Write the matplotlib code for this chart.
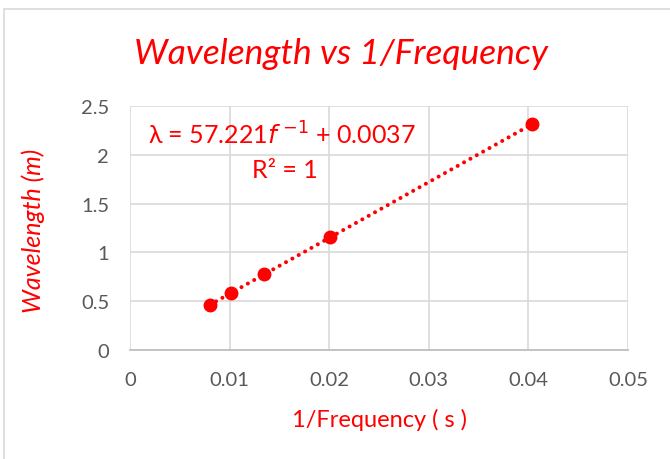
import matplotlib.pyplot as plt
import numpy as np
from matplotlib.patches import Rectangle

# measured points: period (1/f, s) and wavelength (m)
inv_freq = [0.0080, 0.0101, 0.0135, 0.0201, 0.0404]
wavelength = [0.4615, 0.5817, 0.7762, 1.1539, 2.3154]
slope = 57.221
intercept = 0.0037
x_ticks = [0, 0.01, 0.02, 0.03, 0.04, 0.05]
x_tick_labels = ['0', '0.01', '0.02', '0.03', '0.04', '0.05']
y_ticks = [0, 0.5, 1, 1.5, 2, 2.5]
y_tick_labels = ['0', '0.5', '1', '1.5', '2', '2.5']

red = '#ff0000'
grid_col = '#d9d9d9'
tick_col = '#595959'
plt.rcParams['font.family'] = ['Lato', 'DejaVu Sans']

fig = plt.figure(figsize=(6.7, 4.6), dpi=100)
fig.patches.append(Rectangle((4 / 670, -0.01), 1.0, (460 - 10) / 460 + 0.01,
                             transform=fig.transFigure, fill=False,
                             edgecolor='#d9d9d9', linewidth=1.2))
ax = fig.add_axes([130 / 670, (460 - 351) / 460, 498 / 670, 244 / 460])

# trendline over the data range
xs = np.array([min(inv_freq), max(inv_freq)])
ax.plot(xs, slope * xs + intercept, color=red, linestyle=(0, (0.01, 1.8)),
        linewidth=2.9, dash_capstyle='round', zorder=2)
ax.plot(inv_freq, wavelength, 'o', color=red, markersize=9, zorder=3)

ax.set_xlim(0, 0.05)
ax.set_ylim(0, 2.5)
ax.set_xticks(x_ticks, x_tick_labels)
ax.set_yticks(y_ticks, y_tick_labels)
ax.grid(True, color=grid_col, linewidth=1.2)
ax.set_axisbelow(True)
for side in ['top', 'right', 'left']:
    ax.spines[side].set_visible(False)
ax.spines['bottom'].set_color('#bfbfbf')
ax.spines['bottom'].set_linewidth(1.3)
ax.tick_params(length=0, labelsize=14.5, colors=tick_col, pad=15)

fig.text(341 / 670, 1 - 54 / 460, 'Wavelength vs 1/Frequency', color=red,
         fontsize=25.5, style='italic', ha='center', va='center')
fig.text(380 / 670, 1 - 420 / 460, '1/Frequency ( s )', color=red,
         fontsize=17, ha='center', va='center')
fig.text(33 / 670, 1 - 231 / 460, 'Wavelength (m)', color=red,
         fontsize=18, style='italic', rotation=90, ha='center', va='center')

ax.text(0.0018, 2.21, r'λ = 57.221$\mathit{f}$ $^{-1}$ + 0.0037', color=red,
        fontsize=18, ha='left', va='center')
ax.text(0.0155, 1.85, 'R² = 1', color=red, fontsize=18, ha='center', va='center')

fig.savefig('out.png', dpi=100)
